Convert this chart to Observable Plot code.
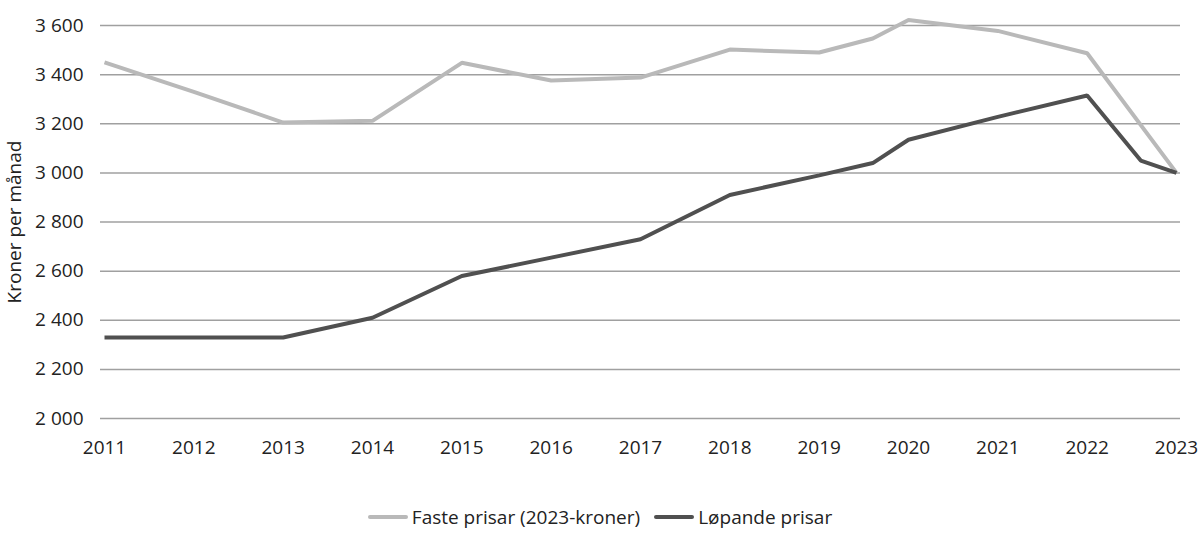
<!DOCTYPE html>
<html>
<head>
<meta charset="utf-8">
<script src="https://cdn.jsdelivr.net/npm/d3@7"></script>
<script src="https://cdn.jsdelivr.net/npm/@observablehq/plot@0.6"></script>
<style>
  body { margin: 0; background: #fff; font-family: "Open Sans", sans-serif; }
  #chart svg { display: block; }
  .legend { display: flex; justify-content: center; align-items: center; gap: 14px; margin-top: 35px; font-size: 19px; color: #222; line-height: 24px; height: 24px; }
  .legend .item { display: flex; align-items: center; gap: 4px; }
  .legend .sw { width: 40px; height: 4px; border-radius: 2px; display: inline-block; }
</style>
</head>
<body>
<div id="chart"></div>
<div class="legend" id="legend"></div>
<script>
const seriesNames = ["Faste prisar (2023-kroner)", "Løpande prisar"];
const seriesColors = ["#b9b9b9", "#505050"];

const fasteX = [2011, 2012, 2013, 2014, 2015, 2016, 2017, 2018, 2019, 2019.6, 2020, 2021, 2022, 2023];
const fasteY = [3450, 3330, 3205, 3212, 3448, 3376, 3388, 3502, 3490, 3547, 3622, 3578, 3487, 3000];

const lopandeX = [2011, 2012, 2013, 2014, 2015, 2016, 2017, 2018, 2019, 2019.6, 2020, 2021, 2022, 2022.6, 2023];
const lopandeY = [2330, 2330, 2330, 2410, 2580, 2655, 2730, 2910, 2990, 3040, 3135, 3228, 3315, 3050, 3000];

const xTicks = [2011, 2012, 2013, 2014, 2015, 2016, 2017, 2018, 2019, 2020, 2021, 2022, 2023];
const yTicks = [2000, 2200, 2400, 2600, 2800, 3000, 3200, 3400, 3600];

const faste = fasteX.map((x, i) => ({x, y: fasteY[i]}));
const lopande = lopandeX.map((x, i) => ({x, y: lopandeY[i]}));

const fmt = d => d3.format(",")(d).replace(/,/g, " ");

const chart = Plot.plot({
  width: 1200,
  height: 470,
  marginLeft: 100,
  marginRight: 20,
  marginTop: 25,
  marginBottom: 52,
  style: { fontFamily: "Open Sans", fontSize: "19px", color: "#222", background: "#fff" },
  x: { domain: [2011, 2023], insetLeft: 4, insetRight: 4 },
  y: { domain: [2000, 3600] },
  marks: [
    Plot.gridY(yTicks, { stroke: "#a0a0a0", strokeOpacity: 1, strokeWidth: 1.5 }),
    Plot.axisY(yTicks, { tickSize: 0, tickPadding: 17, tickFormat: fmt, label: "Kroner per månad", labelAnchor: "center", labelArrow: "none", labelOffset: 93, fontSize: 19 }),
    Plot.axisX(xTicks, { tickSize: 0, tickPadding: 22, tickFormat: d => String(d), label: null, fontSize: 19 }),
    Plot.lineY(faste, { x: "x", y: "y", stroke: seriesColors[0], strokeWidth: 4, strokeLinejoin: "miter", strokeLinecap: "butt" }),
    Plot.lineY(lopande, { x: "x", y: "y", stroke: seriesColors[1], strokeWidth: 4, strokeLinejoin: "miter", strokeLinecap: "butt" })
  ]
});
document.getElementById("chart").appendChild(chart);

const legend = document.getElementById("legend");
seriesNames.forEach((name, i) => {
  const item = document.createElement("span");
  item.className = "item";
  const sw = document.createElement("span");
  sw.className = "sw";
  sw.style.background = seriesColors[i];
  item.appendChild(sw);
  item.appendChild(document.createTextNode(name));
  legend.appendChild(item);
});
</script>
</body>
</html>
